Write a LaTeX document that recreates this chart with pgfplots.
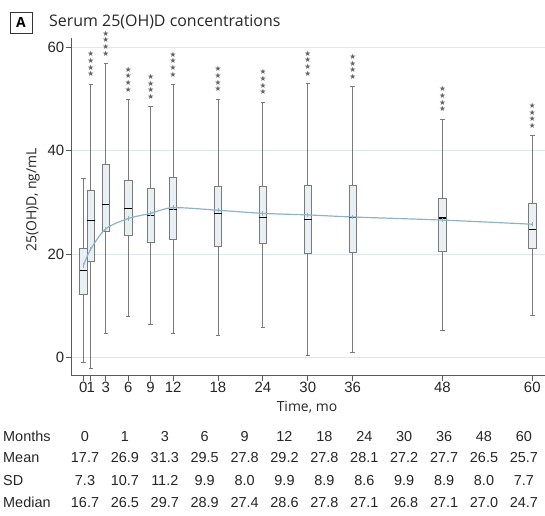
\documentclass[border=0pt]{standalone}
\usepackage{fontspec}
\setmainfont{Liberation Sans}
\newfontfamily\segoe{Open Sans}
\newfontfamily\symfont{DejaVu Sans}
\usepackage{pgfplots}
\pgfplotsset{compat=1.18}
\usepgfplotslibrary{statistics}
\definecolor{boxfill}{HTML}{E8F0F4}
\definecolor{boxedge}{HTML}{7A7A7A}
\definecolor{meanline}{HTML}{8DB4C6}
\definecolor{gridc}{HTML}{DCE8EE}
\definecolor{axc}{HTML}{5A5A5A}
\newcommand{\bx}[6]{%
  \addplot[boxplot prepared={draw position=#1, lower whisker=#2, lower quartile=#3,
    median=#4, upper quartile=#5, upper whisker=#6, box extend=1, whisker extend=0.6}]
    coordinates {};}
\newcommand{\stars}[2]{%
  \node[anchor=south, inner sep=0pt, yshift=7bp, align=center, text=black!62,
        font=\symfont\fontsize{7.6}{6.7}\selectfont] at (axis cs:#1,#2) {★\\★\\★\\★};}
\begin{document}
\begin{tikzpicture}
\useasboundingbox (0,0) rectangle (545bp,516bp);
\begin{axis}[
  at={(71bp,140.3bp)}, anchor=south west, scale only axis,
  width=474bp, height=337.7bp,
  xmin=-1.644, xmax=61.70, ymin=-3.48, ymax=61.8,
  axis lines*=left,
  axis line style={axc, line width=0.8bp},
  xtick={0,1,3,6,9,12,18,24,30,36,48,60},
  ytick={0,20,40,60},
  tick align=outside, major tick length=5.5bp,
  tick style={axc, line width=0.8bp},
  ymajorgrids, grid style={gridc, line width=0.8bp},
  clip=false,
  /pgf/number format/assume math mode=true,
  ticklabel style={font=\fontsize{15}{15}\selectfont, text=black!85},
  xticklabel style={inner sep=1pt},
  yticklabel style={inner sep=1pt},
  boxplot/draw direction=y,
  boxplot/every box/.style={draw=boxedge, fill=boxfill, line width=0.8bp},
  boxplot/every whisker/.style={draw=boxedge, line width=0.8bp},
  boxplot/every median/.style={draw=black, line width=1.1bp},
]
% month, lower whisker, Q1, median, Q3, upper whisker
\bx{0}{-1.0}{12.3}{16.8}{21.1}{34.7}
\bx{1}{-2.0}{18.6}{26.5}{32.3}{52.9}
\bx{3}{4.7}{24.4}{29.7}{37.4}{56.9}
\bx{6}{7.9}{23.7}{28.9}{34.2}{49.9}
\bx{9}{6.4}{22.2}{27.4}{32.7}{48.5}
\bx{12}{4.7}{22.8}{28.6}{34.8}{52.8}
\bx{18}{4.4}{21.6}{27.8}{33.1}{50.0}
\bx{24}{5.8}{22.1}{27.1}{33.1}{49.4}
\bx{30}{0.5}{20.2}{26.8}{33.3}{53.0}
\bx{36}{1.0}{20.4}{27.1}{33.3}{52.4}
\bx{48}{5.2}{20.5}{27.0}{30.7}{46.1}
\bx{60}{8.1}{21.1}{24.7}{29.8}{42.9}
\addplot[meanline, line width=1.2bp, smooth, tension=0.5, mark=|, mark size=2.2bp,
  mark options={solid, line width=0.8bp}] coordinates {
  (0,17.8) (1,21.0) (3,24.9) (6,26.9) (9,27.9) (12,29.0) (18,28.5)
  (24,27.9) (30,27.6) (36,27.2) (48,26.6) (60,25.8)};
\stars{1}{52.9}
\stars{3}{56.9}
\stars{6}{49.9}
\stars{9}{48.5}
\stars{12}{52.8}
\stars{18}{50.0}
\stars{24}{49.4}
\stars{30}{53.0}
\stars{36}{52.4}
\stars{48}{46.1}
\stars{60}{42.9}
\end{axis}
% axis labels
\node[rotate=90, font=\segoe\fontsize{14}{14}\selectfont, text=black!85] at (33bp,316bp) {25(OH)D, ng/mL};
\node[font=\segoe\fontsize{14}{14}\selectfont, text=black!85] at (307bp,109bp) {Time, mo};
% title
\node[draw=black!80, line width=1bp, inner sep=0pt, minimum width=22bp, minimum height=21bp,
      font=\segoe\bfseries\fontsize{14}{14}\selectfont] at (21bp,493bp) {A};
\node[anchor=base west, inner sep=0pt, font=\segoe\fontsize{16}{16}\selectfont, text=black!85] at (49bp,489bp) {Serum 25(OH)D concentrations};
% table
\begin{scope}[every node/.style={inner sep=0pt, font=\fontsize{14.5}{14.5}\selectfont, text=black!85}]
\node[anchor=base west] at (3bp,74.5bp) {Months};
\node[anchor=base west] at (3bp,53bp) {Mean};
\node[anchor=base west] at (3bp,31bp) {SD};
\node[anchor=base west] at (3bp,8.5bp) {Median};
\foreach \v [count=\i from 0] in {0,1,3,6,9,12,18,24,30,36,48,60}
  \node[anchor=base] at ({(85+39.9*\i)*1bp},74.5bp) {\v};
\foreach \v [count=\i from 0] in {17.7,26.9,31.3,29.5,27.8,29.2,27.8,28.1,27.2,27.7,26.5,25.7}
  \node[anchor=base] at ({(85+39.9*\i)*1bp},53bp) {\v};
\foreach \v [count=\i from 0] in {7.3,10.7,11.2,9.9,8.0,9.9,8.9,8.6,9.9,8.9,8.0,7.7}
  \node[anchor=base] at ({(85+39.9*\i)*1bp},31bp) {\v};
\foreach \v [count=\i from 0] in {16.7,26.5,29.7,28.9,27.4,28.6,27.8,27.1,26.8,27.1,27.0,24.7}
  \node[anchor=base] at ({(85+39.9*\i)*1bp},8.5bp) {\v};
\end{scope}
\end{tikzpicture}
\end{document}
